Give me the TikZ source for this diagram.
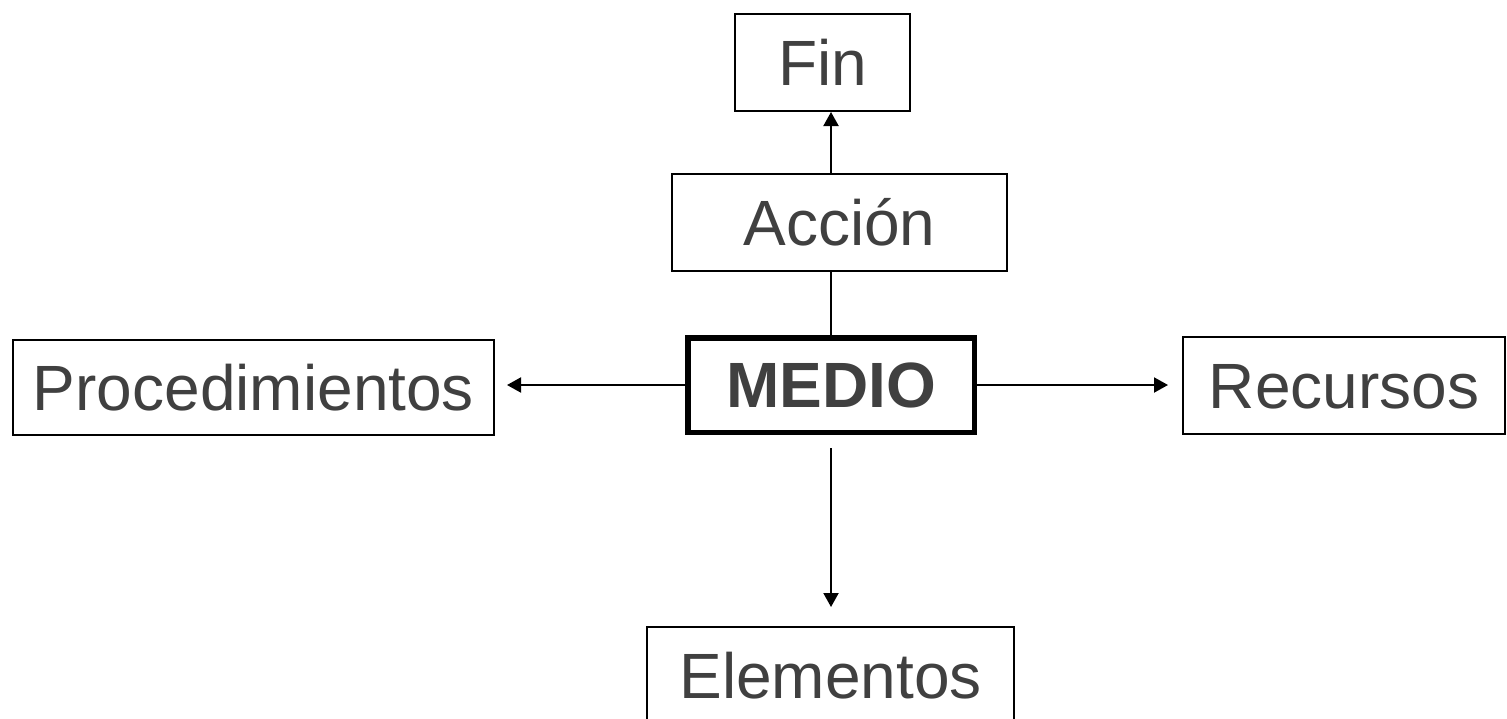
\documentclass[tikz,border=0pt]{standalone}
\usepackage{fontspec}
\setmainfont{Liberation Sans}
\usepackage{xcolor}
\usetikzlibrary{arrows.meta}
\definecolor{textGray}{HTML}{404040}
\newcommand\labelFont{\fontsize{32}{38}\selectfont}

\tikzset{
    box/.style={draw=black, line width=1.2pt, inner sep=0pt, text=textGray,
        font=\labelFont, text height=22.9pt, text depth=0pt},
    link/.style={line width=1pt},
    arrow/.style={link, -{Triangle[length=7pt,width=7.5pt]}}
}

\begin{document}
\begin{tikzpicture}[x=0.5pt, y=-0.5pt]
    \useasboundingbox (0,0) rectangle (1507,718);

    \node[box, minimum width=87.3pt, minimum height=48.3pt] (fin) at (822.5,62.5) {Fin};
    \node[box, minimum width=167.3pt, minimum height=48.3pt] (accion) at (839.5,222.5) {Acción};
    \node[box, line width=2.75pt, font=\labelFont\bfseries,
        minimum width=143.25pt, minimum height=47.25pt] (medio) at (831,385) {MEDIO};
    \node[box, minimum width=240.3pt, minimum height=47.3pt] (proc) at (253.5,387.5) {Procedimientos};
    \node[box, minimum width=160.9pt, minimum height=48.3pt] (recursos) at (1344.1,385.5) {Recursos};
    \node[box, minimum width=183.3pt, minimum height=48.3pt] (elementos) at (830.5,675.5) {Elementos};

    \draw[arrow] (medio.north |- accion.north) -- (medio.north |- fin.south);
    \draw[link] (medio.north |- accion.south) -- (medio.north);
    \draw[arrow, shorten >=6pt] (medio.west) -- (medio.west -| proc.east);
    \draw[arrow, shorten >=7pt] (medio.east) -- (medio.east -| recursos.west);
    \draw[arrow, shorten <=6.5pt, shorten >=9.5pt] (medio.south) -- (medio.south |- elementos.north);
\end{tikzpicture}
\end{document}
